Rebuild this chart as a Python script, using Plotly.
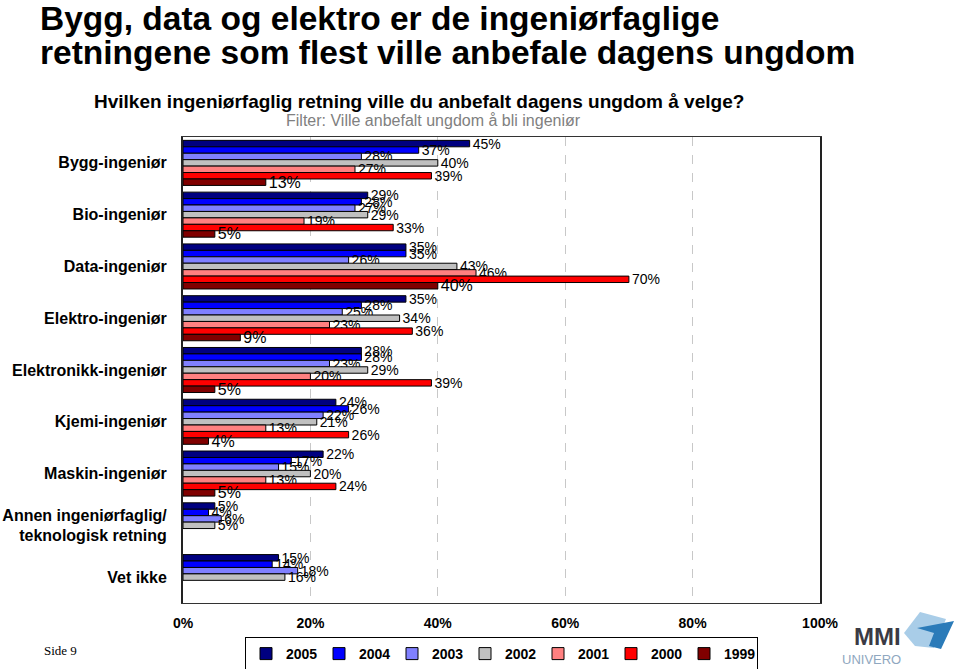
import plotly.graph_objects as go

categories = ["Bygg-ingeniør", "Bio-ingeniør", "Data-ingeniør", "Elektro-ingeniør",
              "Elektronikk-ingeniør", "Kjemi-ingeniør", "Maskin-ingeniør",
              "Annen ingeniørfaglig/<br>teknologisk retning", "Vet ikke"]
years = ["2005", "2004", "2003", "2002", "2001", "2000", "1999"]
v2005 = [45, 29, 35, 35, 28, 24, 22, 5, 15]
v2004 = [37, 28, 35, 28, 28, 26, 17, 4, 14]
v2003 = [28, 27, 26, 25, 23, 22, 15, 6, 18]
v2002 = [40, 29, 43, 34, 29, 21, 20, 5, 16]
v2001 = [27, 19, 46, 23, 20, 13, 13, None, None]
v2000 = [39, 33, 70, 36, 39, 26, 24, None, None]
v1999 = [13, 5, 40, 9, 5, 4, 5, None, None]
series = [v2005, v2004, v2003, v2002, v2001, v2000, v1999]
colors = ["#000080", "#0000FF", "#8080FF", "#C0C0C0", "#FF8080", "#FF0000", "#800000"]
xticks = [0, 20, 40, 60, 80, 100]

W, H = 960, 669
L, R, T, B = 183, 820, 137, 603

def px(x):
    return (x - L) / (R - L)

def py(y):
    return (B - y) / (B - T)

FONT = "Arial, Liberation Sans"

fig = go.Figure()
for yr, vals, col in zip(years, series, colors):
    fig.add_trace(go.Bar(
        x=vals, y=categories, orientation="h", name=yr,
        marker=dict(color=col, line=dict(color="black", width=1)),
        text=[f"{v}%" if v is not None else "" for v in vals],
        textposition="outside", constraintext="none", cliponaxis=False,
        textfont=dict(family=FONT, size=16 if yr == "1999" else 14, color="black"),
    ))

fig.update_layout(
    width=W, height=H, barmode="group", bargap=0.13, bargroupgap=0,
    plot_bgcolor="white", paper_bgcolor="white",
    margin=dict(l=L, r=W - R, t=T, b=H - B, autoexpand=False),
    font=dict(family=FONT, color="black"),
    showlegend=True,
    legend=dict(orientation="h", x=0.5, xanchor="center", y=py(637), yanchor="top",
                bordercolor="black", borderwidth=1, font=dict(size=14, weight="bold"),
                itemwidth=30, entrywidth=28, tracegroupgap=0),
)
fig.update_xaxes(range=[0, 100], tickvals=xticks, ticktext=[f"{t}%" for t in xticks],
                 showgrid=True, gridcolor="#C8C8C8", griddash="dash", gridwidth=1,
                 showline=True, linecolor="#333333", linewidth=1, mirror=True,
                 ticks="", ticklabelstandoff=7, zeroline=False, automargin=False,
                 tickfont=dict(size=14, color="black", weight="bold"))
fig.update_yaxes(autorange="reversed", showline=True, linecolor="#222222", linewidth=2, mirror=True,
                 ticks="", ticklabelstandoff=11, automargin=False,
                 tickfont=dict(size=16, color="black", weight="bold"))

ann = [
    dict(text="<b>Bygg, data og elektro er de ingeniørfaglige</b>",
         x=px(38), y=py(18), xanchor="left", yanchor="middle", align="left",
         font=dict(family=FONT, size=33.5, color="black")),
    dict(text="<b>retningene som flest ville anbefale dagens ungdom</b>",
         x=px(38), y=py(53), xanchor="left", yanchor="middle", align="left",
         font=dict(family=FONT, size=33.5, color="black")),
    dict(text="<b>Hvilken ingeniørfaglig retning ville du anbefalt dagens ungdom å velge?</b>",
         x=px(92), y=py(101), xanchor="left", yanchor="middle",
         font=dict(family=FONT, size=19, color="black")),
    dict(text="Filter: Ville anbefalt ungdom å bli ingeniør",
         x=px(433), y=py(121), xanchor="center", yanchor="middle",
         font=dict(family=FONT, size=16, color="#808080")),
    dict(text="Side 9", x=px(60), y=py(650), xanchor="center", yanchor="middle",
         font=dict(family="Liberation Serif, Times New Roman", size=13, color="black")),
    dict(text="<b>MMI</b>", x=px(877), y=py(636), xanchor="center", yanchor="middle",
         font=dict(family=FONT, size=24, color="#3a3a44")),
    dict(text="UNIVERO", x=px(871), y=py(659), xanchor="center", yanchor="middle",
         font=dict(family=FONT, size=13, color="#8fa7c0")),
]
for a in ann:
    a.update(xref="paper", yref="paper", showarrow=False)
fig.update_layout(annotations=ann)

def path(pts):
    return "M " + " L ".join(f"{px(x):.4f},{py(y):.4f}" for x, y in pts) + " Z"

fig.update_layout(shapes=[
    dict(type="path", xref="paper", yref="paper",
         path=path([(904, 633), (920, 612), (946, 619), (934, 648), (915, 646)]),
         fillcolor="#a9cde8", line=dict(width=0)),
    dict(type="path", xref="paper", yref="paper",
         path=path([(917, 628), (954, 621), (941, 649), (929, 646), (934, 633)]),
         fillcolor="#2b7bb9", line=dict(width=0)),
])

fig.write_html("out.html", config={"displayModeBar": False},
               post_script="document.body.style.margin='0';document.body.style.overflow='hidden';")
